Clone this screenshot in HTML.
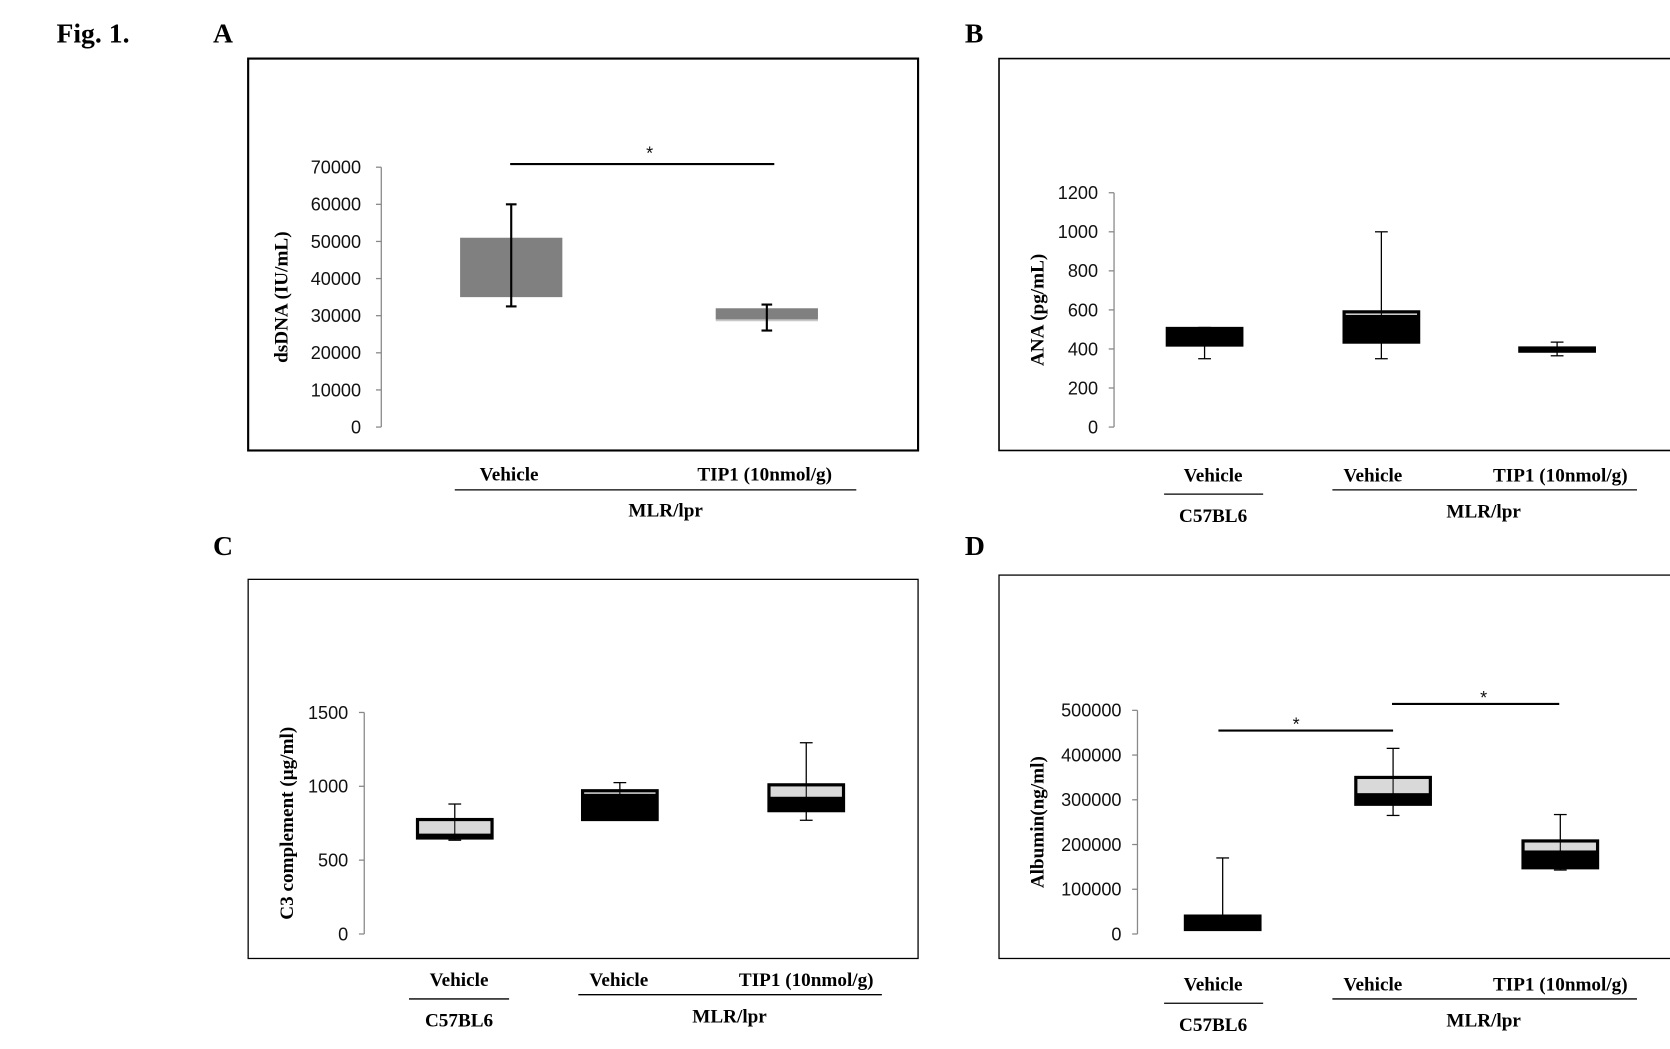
<!DOCTYPE html>
<html><head><meta charset="utf-8"><style>
html,body{margin:0;padding:0;background:#fff;}
svg{display:block;}
.t{font-family:"Liberation Sans",sans-serif;font-size:17px;fill:#111;}
.b{font-family:"Liberation Serif",serif;font-weight:bold;fill:#000;}
</style></head><body>
<svg id="fig" width="1670" height="1049" viewBox="0 0 1568 985" preserveAspectRatio="none" xmlns="http://www.w3.org/2000/svg">
<text class="b" x="53" y="40" font-size="26">Fig. 1.</text>
<text class="b" x="200" y="40" font-size="26">A</text>
<text class="b" x="906" y="40" font-size="26">B</text>
<text class="b" x="200" y="521" font-size="26">C</text>
<text class="b" x="906" y="521" font-size="26">D</text>
<rect x="233" y="55" width="629" height="368" fill="none" stroke="#000" stroke-width="2"/>
<rect x="938" y="55" width="640" height="368" fill="none" stroke="#000" stroke-width="1.5"/>
<rect x="233" y="544" width="629" height="356" fill="none" stroke="#000" stroke-width="1.2"/>
<rect x="938" y="540" width="640" height="360" fill="none" stroke="#000" stroke-width="1.2"/>
<g id="g"></g>
</svg>
<script>
// Panel A (dsDNA) data
const aCats = ["Vehicle", "TIP1 (10nmol/g)"];
const aLow = [35000, 29000];
const aHigh = [51000, 32000];
const aErrLow = [32500, 26000];
const aErrHigh = [60000, 33000];
const aBandLow = [35000, 28500];
const aTicks = [0,10000,20000,30000,40000,50000,60000,70000];
// Panel B (ANA)
const bCats = ["Vehicle","Vehicle","TIP1 (10nmol/g)"];
const bQ1 = [420, 435, 395];
const bMed = [505, 575, 405];
const bQ3 = [505, 590, 405];
const bMin = [350, 350, 365];
const bMax = [510, 1000, 435];
const bTicks = [0,200,400,600,800,1000,1200];
// Panel C (C3)
const cCats = ["Vehicle","Vehicle","TIP1 (10nmol/g)"];
const cQ1 = [650, 775, 835];
const cMed = [680, 950, 930];
const cQ3 = [775, 970, 1010];
const cMin = [635, 770, 770];
const cMax = [880, 1025, 1295];
const cTicks = [0,500,1000,1500];
// Panel D (Albumin)
const dCats = ["Vehicle","Vehicle","TIP1 (10nmol/g)"];
const dQ1 = [10000, 290000, 148000];
const dMed = [40000, 315000, 187000];
const dQ3 = [40000, 350000, 208000];
const dMin = [10000, 265000, 143000];
const dMax = [170000, 415000, 267000];
const dTicks = [0,100000,200000,300000,400000,500000];

const NS="http://www.w3.org/2000/svg";
const G=document.getElementById('g');
function mk(tag,attrs,parent){const e=document.createElementNS(NS,tag);for(const k in attrs)e.setAttribute(k,attrs[k]);(parent||G).appendChild(e);return e;}
function scale(y0px,yTopPx,maxV){return v=>y0px-(v/maxV)*(y0px-yTopPx);}
function axis(ax,y,ticks,maxV,labelX,title,titleX,name){
  const top=y(maxV);
  let l=mk('line',{x1:ax,x2:ax,y1:y(0),y2:top,stroke:'#888','stroke-width':1.2});
  
  
  ticks.forEach(v=>{
    let t=mk('line',{x1:ax-5,x2:ax,y1:y(v),y2:y(v),stroke:'#888','stroke-width':1.2});
    
    
    let tx=mk('text',{x:labelX,y:y(v)+6,'text-anchor':'end','class':'t'});
    tx.textContent=String(v);
    
    
  });
  const mid=(y(0)+top)/2;
  let tt=mk('text',{x:titleX,y:mid,'text-anchor':'middle','class':'b','font-size':18,transform:`rotate(-90 ${titleX} ${mid})`});
  tt.textContent=title;
  
  
}
function box(cx,w,y,q1,med,q3,mn,mx,name){
  let wh=mk('line',{x1:cx,x2:cx,y1:y(mn),y2:y(mx),stroke:'#000','stroke-width':1.2});
  
  
  [mn,mx].forEach(v=>{let c=mk('line',{x1:cx-6,x2:cx+6,y1:y(v),y2:y(v),stroke:'#000','stroke-width':1.2});
    
    });
  let lo=mk('rect',{x:cx-w/2,y:y(med),width:w,height:Math.max(y(q1)-y(med),0.1),fill:'#000'});
  
  
  let up=mk('rect',{x:cx-w/2,y:y(q3),width:w,height:Math.max(y(med)-y(q3),0.1),fill:'#d9d9d9'});
  
  
  let fr=mk('rect',{x:cx-w/2,y:y(q3),width:w,height:Math.max(y(q1)-y(q3),3),fill:'none',stroke:'#000','stroke-width':3});
  
  
  let wi=mk('line',{x1:cx,x2:cx,y1:y(q3),y2:y(q1),stroke:'#000','stroke-width':1});
  
  
}
function label(x,y,txt,name){let t=mk('text',{x:x,y:y,'text-anchor':'middle','class':'b','font-size':18});t.textContent=txt;
  
  }
function hline(x1,x2,y,w,name){let l=mk('line',{x1:x1,x2:x2,y1:y,y2:y,stroke:'#000','stroke-width':w||1.2});
  
  }
function star(x,y,name){let t=mk('text',{x:x,y:y,'text-anchor':'middle','class':'t','font-size':26});t.textContent='*';
  
  }

// Panel A
const yA=scale(401,157,70000);
axis(358,yA,aTicks,70000,339,'dsDNA (IU/mL)',270,'panel-a');
const aX=[480,720];
aCats.forEach((c,i)=>{
  let bd=mk('rect',{x:aX[i]-48,y:yA(aLow[i]),width:96,height:yA(aBandLow[i])-yA(aLow[i]),fill:'#c8c8c8'});
  
  
  let r=mk('rect',{x:aX[i]-48,y:yA(aHigh[i]),width:96,height:yA(aLow[i])-yA(aHigh[i]),fill:'#808080'});
  
  
  let e=mk('line',{x1:aX[i],x2:aX[i],y1:yA(aErrLow[i]),y2:yA(aErrHigh[i]),stroke:'#000','stroke-width':2});
  
  
  [aErrLow[i],aErrHigh[i]].forEach(v=>{let cp=mk('line',{x1:aX[i]-5,x2:aX[i]+5,y1:yA(v),y2:yA(v),stroke:'#000','stroke-width':2});
    
    });
  label(aX[i]-2,451,c,'panel-a-category-'+i);
});
hline(479,727,154,2,'panel-a-significance-line');star(610,150,'panel-a-significance-star');
hline(427,804,460,1.2,'panel-a-group-line');label(625,485,'MLR/lpr','panel-a-group-label');

function boxPanel(name,ax,y0,yT,maxV,ticks,labelX,title,titleX,xs,cats,q1,med,q3,mn,mx,catY,grp){
  const y=scale(y0,yT,maxV);
  axis(ax,y,ticks,maxV,labelX,title,titleX,name);
  cats.forEach((c,i)=>{box(xs[i],70,y,q1[i],med[i],q3[i],mn[i],mx[i],name+'-box-'+i);});
  const lx=[grp.c1,grp.c2,grp.c3];
  cats.forEach((c,i)=>label(lx[i],catY,c,name+'-category-'+i));
  hline(grp.l1[0],grp.l1[1],catY+12,1.2,name+'-c57-line');
  label(lx[0],catY+38,'C57BL6',name+'-c57-label');
  hline(grp.l2[0],grp.l2[1],catY+8,1.2,name+'-mlr-line');
  label(grp.mx,catY+34,'MLR/lpr',name+'-mlr-label');
  return y;
}
boxPanel('panel-b',1046,401,181,1200,bTicks,1031,'ANA (pg/mL)',980,[1131,1297,1462],bCats,bQ1,bMed,bQ3,bMin,bMax,452,
  {c1:1139,c2:1289,c3:1465,l1:[1093,1186],l2:[1251,1537],mx:1393});
boxPanel('panel-c',342,877,669,1500,cTicks,327,'C3 complement (µg/ml)',275,[427,582,757],cCats,cQ1,cMed,cQ3,cMin,cMax,926,
  {c1:431,c2:581,c3:757,l1:[384,478],l2:[543,828],mx:685});
boxPanel('panel-d',1068,877,667,500000,dTicks,1053,'Albumin(ng/ml)',980,[1148,1308,1465],dCats,dQ1,dMed,dQ3,dMin,dMax,930,
  {c1:1139,c2:1289,c3:1465,l1:[1093,1186],l2:[1251,1537],mx:1393});
hline(1144,1308,686,2,'panel-d-significance-line-1');star(1217,686,'panel-d-significance-star-1');
hline(1307,1464,661,2,'panel-d-significance-line-2');star(1393,661,'panel-d-significance-star-2');
</script>
</body></html>
